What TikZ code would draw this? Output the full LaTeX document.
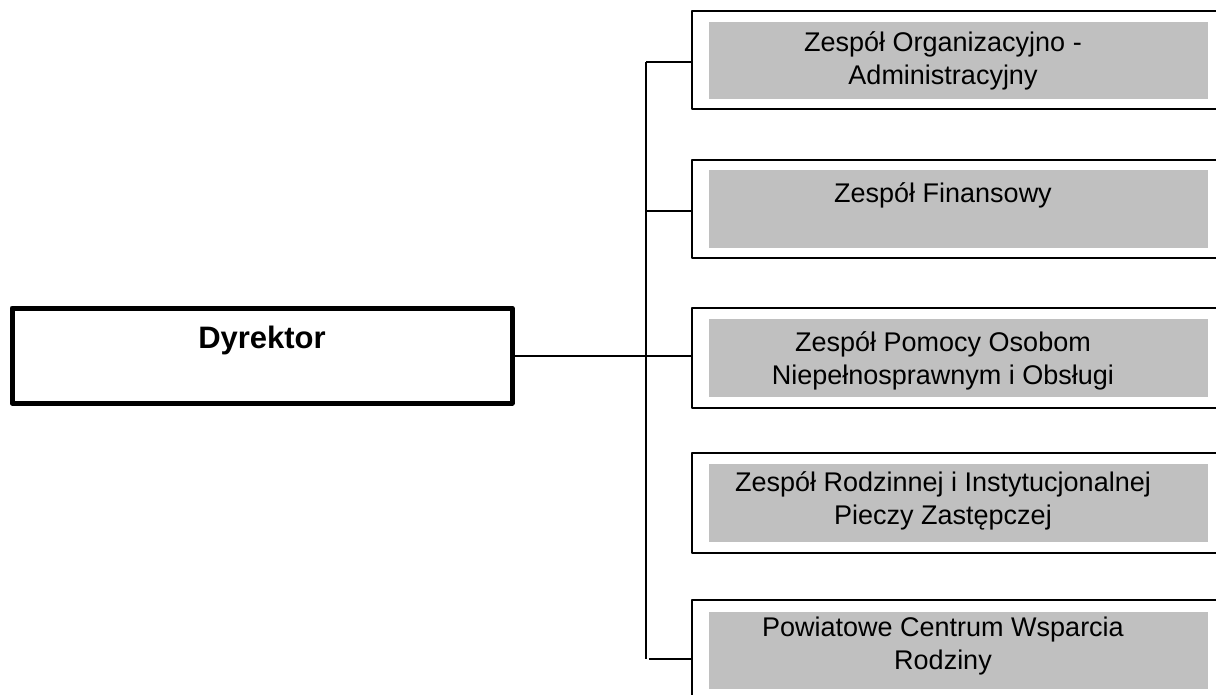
\documentclass[tikz,border=0pt]{standalone}
\usepackage{fontspec}
\setmainfont{Liberation Sans}
\definecolor{boxgrey}{RGB}{192,192,192}
\begin{document}
\begin{tikzpicture}[x=1pt,y=-1pt,
  unitbox/.style={draw=black, line width=2.5pt, fill=white, minimum width=540pt, anchor=north west, inner sep=0pt, outer sep=0pt, line join=round},
  dirbox/.style={draw=black, line width=5pt, fill=white, minimum width=500pt, minimum height=95pt, anchor=north west, inner sep=0pt, outer sep=0pt, line join=round},
  greyfill/.style={fill=boxgrey},
  lbl/.style={font=\fontsize{27}{33}\selectfont, align=center, inner sep=0pt},
  dirlbl/.style={font=\fontsize{31}{36}\selectfont\bfseries, inner sep=0pt},
  conn/.style={draw=black, line width=1.6pt}]
\clip (0,0) rectangle (1216,695);
\fill[white] (0,0) rectangle (1216,695);

% director
\node[dirbox] (d) at (12,308) {};
\node[dirlbl] (dt) at (262,340) {Dyrektor};

% unit boxes
\node[unitbox, minimum height=98pt] (b1) at (692,11) {};
\node[unitbox, minimum height=98pt] (b2) at (692,160) {};
\node[unitbox, minimum height=100pt] (b3) at (692,308) {};
\node[unitbox, minimum height=100pt] (b4) at (692,453) {};
\node[unitbox, minimum height=100pt] (b5) at (692,600) {};

% grey inner areas
\fill[greyfill] (709,22) rectangle (1208,99);
\fill[greyfill] (709,170) rectangle (1208,248);
\fill[greyfill] (709,319) rectangle (1208,397);
\fill[greyfill] (709,464) rectangle (1208,542);
\fill[greyfill] (709,612) rectangle (1208,689);

% labels
\node[lbl] (t1) at (943,61) {Zespół Organizacyjno -\\Administracyjny};
\node[lbl] (t2) at (943,195) {Zespół Finansowy};
\node[lbl] (t3) at (943,361) {Zespół Pomocy Osobom\\Niepełnosprawnym i Obsługi};
\node[lbl] (t4) at (943,501) {Zespół Rodzinnej i Instytucjonalnej\\Pieczy Zastępczej};
\node[lbl] (t5) at (943,646) {Powiatowe Centrum Wsparcia\\Rodziny};

% connectors
\coordinate (vtop) at (646,62);
\coordinate (v2) at (646,211);
\coordinate (vbot) at (646,659);
\coordinate (v5) at (649,659);
\coordinate (dmid) at (512,356);
\draw[conn] (vtop) -- (vbot);
\draw[conn] (vtop) -- (b1.west |- vtop);
\draw[conn] (v2) -- (b2.west |- v2);
\draw[conn] (dmid) -- (b3.west |- dmid);
\draw[conn] (v5) -- (b5.west |- v5);
\end{tikzpicture}
\end{document}
